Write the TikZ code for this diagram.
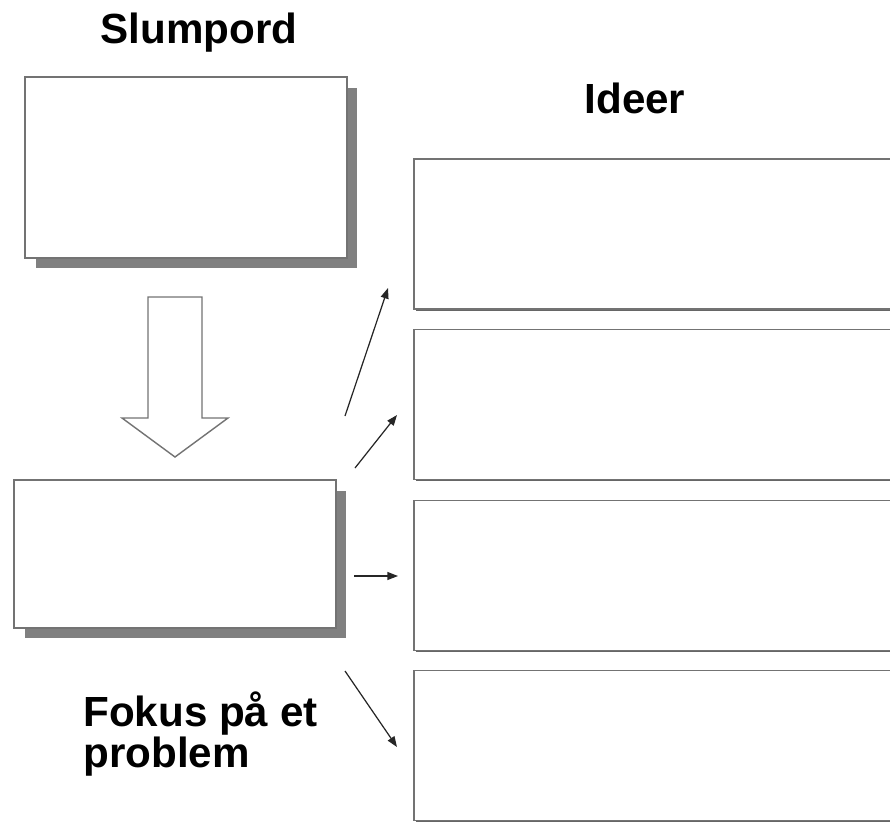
\documentclass[tikz,border=0pt]{standalone}
\usepackage{xcolor}
\usepackage{fontspec}
\setmainfont{Liberation Sans}
\usetikzlibrary{shadows,arrows.meta}

\begin{document}
\begin{tikzpicture}[x=0.02cm, y=-0.02cm,
    bigbox/.style={draw=black!55, line width=0.8pt, fill=white, inner sep=0pt,
      minimum width=6.44cm,
      drop shadow={shadow xshift=0.21cm, shadow yshift=-0.21cm, fill=black!50, opacity=1}},
    ideabox/.style={draw=black!55, line width=0.8pt, fill=white, inner sep=0pt,
      minimum width=9.92cm, minimum height=3cm,
      drop shadow={shadow xshift=0.03cm, shadow yshift=-0.04cm, fill=black!60, opacity=1}},
    heading/.style={font=\fontsize{24pt}{22.8pt}\selectfont\bfseries, inner sep=0pt},
    pil/.style={-{Triangle[length=6pt, width=4.5pt]}, line width=0.7pt, black!85}]
      % \draw[help lines] (0,0) grid[step=50] (890,822);
      \clip (0,0) rectangle (890,822);

      \node[heading, anchor=base] (slump) at (199,43) {Slumpord};
      \node[bigbox, minimum height=3.62cm] (slumpbox) at (186,167.5) {};

      \draw[draw=black!55, line width=0.8pt, fill=white]
        (148,297) -- (202,297) -- (202,418) -- (228,418) -- (175,457)
        -- (122,418) -- (148,418) -- cycle;

      \node[bigbox, minimum height=2.96cm] (fokusbox) at (175,554) {};
      \node[heading, anchor=base west, align=left] (fokus) at (83,767) {Fokus på et\\problem};

      \node[heading, anchor=base] (ideer) at (635,113) {Ideer};
      \node[ideabox] (idea1) at (662,234) {};
      \node[ideabox] (idea2) at (662,404.5) {};
      \node[ideabox] (idea3) at (662,575.5) {};
      \node[ideabox] (idea4) at (662,745.5) {};

      \coordinate (from1) at (345,416);
      \coordinate (to1) at (388,288);
      \coordinate (from2) at (355,468);
      \coordinate (to2) at (397,415);
      \coordinate (from3) at (354,576);
      \coordinate (to3) at (398,576);
      \coordinate (from4) at (345,671);
      \coordinate (to4) at (397,747);
      \draw[pil] (from1) -- (to1);
      \draw[pil] (from2) -- (to2);
      \draw[pil] (from3) -- (to3);
      \draw[pil] (from4) -- (to4);
    \end{tikzpicture}
\end{document}
